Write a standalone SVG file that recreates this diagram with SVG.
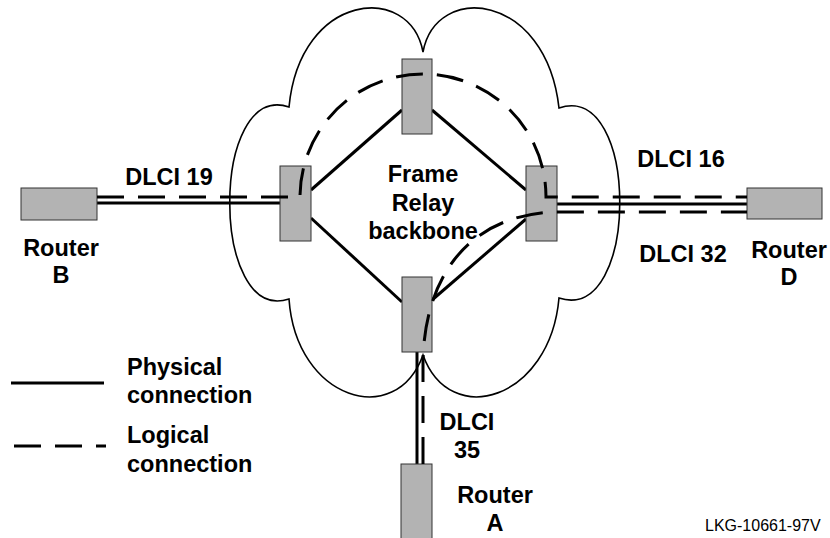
<svg xmlns="http://www.w3.org/2000/svg" width="830" height="538" viewBox="0 0 830 538">
<style>
.box{fill:#b3b3b3;stroke:#333;stroke-width:1}
.phys{fill:none;stroke:#000;stroke-width:3}
.log{fill:none;stroke:#000;stroke-width:3;stroke-dasharray:27 14}
.cloud{fill:#fff;stroke:#000;stroke-width:1.6}
.t{font-family:"Liberation Sans",Arial,sans-serif;font-weight:bold;font-size:23.5px;fill:#000}
.m{text-anchor:middle}
.id{font-family:"Liberation Sans",Arial,sans-serif;font-size:16px;fill:#000}
</style>
<rect width="830" height="538" fill="#fff"/>
<g id="cloud">
<path class="cloud" d="M289 107 C300 -8 410 -18 423 52 C436 -18 546 -8 559 108 C640 80 640 325 559 298 C550 400 450 430 423 355 C396 430 296 400 289 299 C210 325 210 80 289 107 Z"/>
<text class="t m" x="423" y="182">Frame</text>
<text class="t m" x="423" y="211">Relay</text>
<text class="t m" x="423" y="239">backbone</text>
</g>
<g id="physical-links">
<line class="phys" x1="97" y1="203" x2="280" y2="203"/>
<line class="phys" x1="557" y1="204" x2="747" y2="204"/>
<line class="phys" x1="311" y1="190" x2="402" y2="110"/>
<line class="phys" x1="432" y1="110" x2="526" y2="190"/>
<line class="phys" x1="311" y1="218" x2="402" y2="302"/>
<line class="phys" x1="526" y1="219" x2="432" y2="300"/>
<line class="phys" x1="417" y1="352" x2="417" y2="464"/>
</g>
<g id="switch-top"><rect class="box" x="402" y="59" width="30" height="75"/></g>
<g id="switch-left"><rect class="box" x="280" y="166" width="31" height="75"/></g>
<g id="switch-right"><rect class="box" x="526" y="166" width="31" height="75"/></g>
<g id="switch-bottom"><rect class="box" x="402" y="277" width="30" height="75"/></g>
<g id="router-b">
<rect class="box" x="21" y="188" width="76" height="32"/>
<text class="t m" x="61" y="256">Router</text>
<text class="t m" x="61" y="283">B</text>
</g>
<g id="router-d">
<rect class="box" x="747" y="188" width="75" height="31"/>
<text class="t m" x="789" y="258">Router</text>
<text class="t m" x="789" y="285">D</text>
</g>
<g id="router-a">
<rect class="box" x="401" y="464" width="31" height="80"/>
<text class="t m" x="495" y="503">Router</text>
<text class="t m" x="495" y="531">A</text>
</g>
<g id="logical-links">
<path class="log" d="M97 197 L300 197 A123 123 0 0 1 546 197 L747 197"/>
<path class="log" d="M423 464 L423 360 C425 280 465 218 550 212 L747 212"/>
</g>
<g id="labels">
<text class="t m" x="169" y="185">DLCI 19</text>
<text class="t m" x="681" y="167">DLCI 16</text>
<text class="t m" x="683" y="262">DLCI 32</text>
<text class="t m" x="467" y="430">DLCI</text>
<text class="t m" x="467" y="458">35</text>
<text class="id" x="705" y="531">LKG-10661-97V</text>
</g>
<g id="legend">
<line class="phys" x1="11" y1="383" x2="104" y2="383"/>
<line class="log" x1="14" y1="446" x2="106" y2="446"/>
<text class="t" x="127" y="375">Physical</text>
<text class="t" x="127" y="403">connection</text>
<text class="t" x="127" y="443">Logical</text>
<text class="t" x="127" y="472">connection</text>
</g>
</svg>
